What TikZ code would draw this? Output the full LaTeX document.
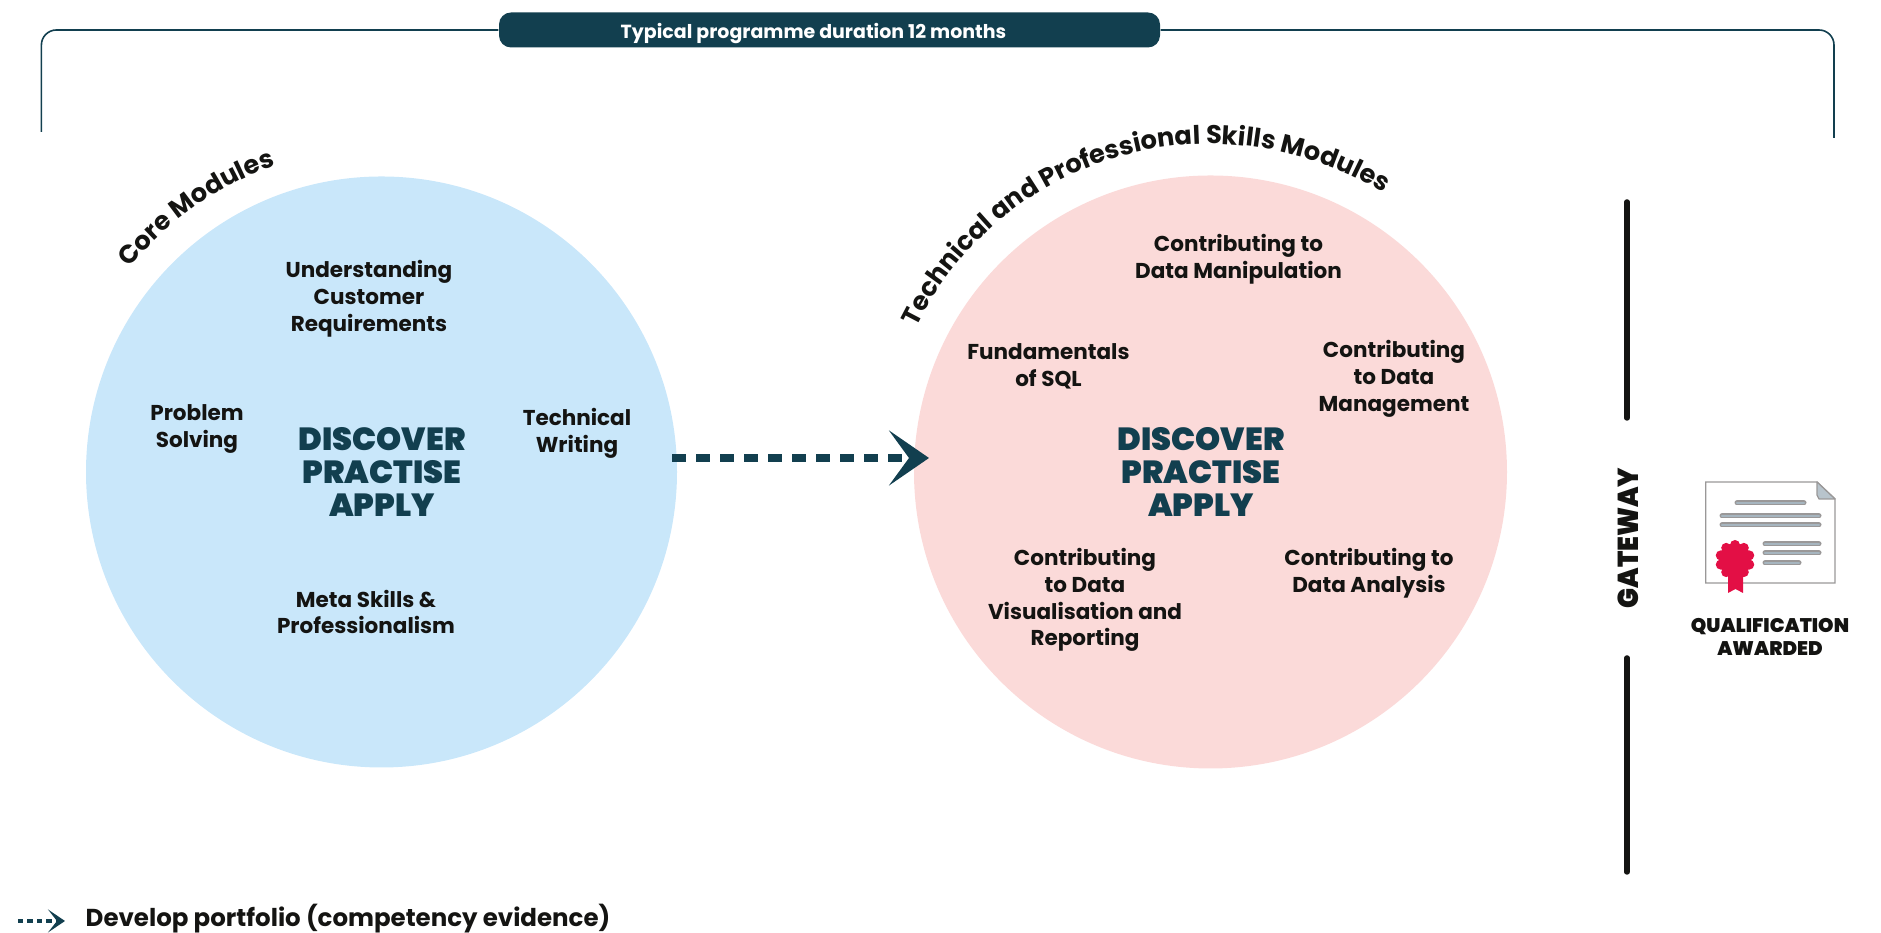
\documentclass[tikz,border=0pt]{standalone}
\usepackage{fontspec}
\setmainfont{Poppins}
\newfontfamily\heavyfont{Poppins Black}
\usetikzlibrary{arrows.meta, decorations.text}
\definecolor{petrol}{HTML}{123F4F}
\definecolor{coreblue}{HTML}{C9E7FA}
\definecolor{techpink}{HTML}{FBDAD9}
\definecolor{inkblack}{HTML}{141412}
\definecolor{certgray}{HTML}{9A9898}
\definecolor{certline}{HTML}{A6B5BF}
\definecolor{sealred}{HTML}{E30F45}
\newcommand{\modfont}{\fontsize{6.12}{7.65}\selectfont\bfseries}
\newcommand{\bowfont}{\fontsize{7.3}{8}\selectfont\bfseries}
\tikzset{
  modcircle/.style = {circle, inner sep = 0pt},
  modlabel/.style = {align = center, text = inkblack, inner sep = 0pt, font = \modfont},
  phaselabel/.style = {align = center, text = petrol, inner sep = 0pt, font = \heavyfont\fontsize{9.1}{9.25}\selectfont},
  gatelabel/.style = {align = center, text = inkblack, inner sep = 0pt},
  frameline/.style = {draw = petrol, line width = 0.016cm, rounded corners = 0.15cm},
  gateline/.style = {draw = inkblack, line width = 0.055cm, line cap = round},
  evidence/.style = {draw = petrol, line width = 0.087cm, dash pattern = on 0.143cm off 0.097cm,
    -{Stealth[length = 0.40cm, width = 0.55cm, inset = 0.20cm]}},
  evidencesmall/.style = {draw = petrol, line width = 0.035cm, dash pattern = on 0.055cm off 0.04cm,
    -{Stealth[length = 0.17cm, width = 0.23cm, inset = 0.09cm]}},
  bowtext/.style = {decorate, decoration = {text along path, text align = center, text = {#1}}}
}
\begin{document}
\begin{tikzpicture}
        \useasboundingbox (0, 0) rectangle (18.81, 9.33);
        % programme frame
        \node[fill = petrol, rounded corners = 0.12cm, minimum width = 6.61cm, minimum height = 0.35cm, inner sep = 0pt] (duration) at (8.295, 9.03) {};
        \node[text = white, inner sep = 0pt, font = \fontsize{5.4}{6}\selectfont\bfseries] (durationtext) at (8.135, 8.99) {Typical programme duration 12 months};
        \coordinate (frameleft) at (0.414, 8.01);
        \coordinate (frameright) at (18.34, 7.95);
        \draw[frameline] (frameleft) |- (duration.west);
        \draw[frameline] (frameright) |- (duration.east);
        % circles
        \node[modcircle, fill = coreblue, minimum size = 5.91cm] (core) at (3.815, 4.61) {};
        \node[modcircle, fill = techpink, minimum size = 5.93cm] (tech) at (12.105, 4.61) {};
        \path[bowtext = {|\bowfont\color{inkblack}|Core Modules}] ([shift = {(149.5:3.24)}] core.center) arc [start angle = 149.5, end angle = 100.5, radius = 3.24];
        \path[bowtext = {|\bowfont\color{inkblack}|Technical and Professional Skills Modules}] ([shift = {(160:3.28)}] tech.center) arc [start angle = 160, end angle = 52, radius = 3.28];
        % core modules
        \node[modlabel] (customer) at (3.69, 6.34) {Understanding\\Customer\\Requirements};
        \node[modlabel] (problem) at (1.97, 5.04) {Problem\\Solving};
        \node[modlabel] (writing) at (5.77, 5.00) {Technical\\Writing};
        \node[modlabel] (meta) at (3.66, 3.21) {Meta Skills \&\\Professionalism};
        \node[phaselabel] (phasecore) at (3.82, 4.61) {DISCOVER\\PRACTISE\\APPLY};
        % technical and professional modules
        \node[modlabel] (manipulation) at (12.385, 6.735) {Contributing to\\Data Manipulation};
        \node[modlabel] (sql) at (10.485, 5.67) {Fundamentals\\of SQL};
        \node[modlabel] (management) at (13.94, 5.54) {Contributing\\to Data\\Management};
        \node[modlabel] (visualisation) at (10.85, 3.33) {Contributing\\to Data\\Visualisation and\\Reporting};
        \node[modlabel] (analysis) at (13.69, 3.60) {Contributing to\\Data Analysis};
        \node[phaselabel] (phasetech) at (12.01, 4.61) {DISCOVER\\PRACTISE\\APPLY};
        % portfolio arrow
        \coordinate (arrowstart) at (6.72, 4.75);
        \coordinate (arrowend) at (9.29, 4.75);
        \draw[evidence] (arrowstart) -- (arrowend);
        % gateway
        \draw[gateline] (16.27, 7.31) -- (16.27, 5.15);
        \draw[gateline] (16.27, 2.75) -- (16.27, 0.61);
        \node[gatelabel, rotate = 90, xscale = 0.92, font = \heavyfont\fontsize{8.2}{9}\selectfont] (gateway) at (16.285, 3.95) {GATEWAY};
        % certificate
        \draw[certgray, line width = 0.014cm] (17.057, 4.51) -- (17.057, 3.50) -- (18.35, 3.50) -- (18.35, 4.34) -- (18.17, 4.51) -- cycle;
        \filldraw[draw = certgray, fill = certline!80, line width = 0.012cm, line join = round] (18.17, 4.51) -- (18.35, 4.34) -- (18.19, 4.34) -- (18.17, 4.38) -- cycle;
        \foreach \xa/\xb/\ya in {17.37/18.04/4.30, 17.22/18.19/4.17, 17.22/18.19/4.08, 17.65/18.19/3.89, 17.65/18.19/3.80, 17.65/17.99/3.70} {
          \draw[certgray, line width = 0.05cm, line cap = round] (\xa, \ya) -- (\xb, \ya);
          \draw[certline, line width = 0.024cm, line cap = round] (\xa, \ya) -- (\xb, \ya);
        }
        \fill[sealred] (17.28, 3.60) -- (17.43, 3.60) -- (17.43, 3.40) -- (17.355, 3.44) -- (17.28, 3.40) -- cycle;
        \fill[sealred] (17.35, 3.73) circle (0.165);
        \foreach \a in {0, 36, ..., 324} {
          \fill[sealred] (17.35, 3.73) ++(\a + 18 : 0.15) circle (0.05);
        }
        \node[gatelabel, font = \heavyfont\fontsize{5.6}{6.54}\selectfont] (awarded) at (17.70, 2.96) {QUALIFICATION\\AWARDED};
        % legend
        \coordinate (legendstart) at (0.18, 0.12);
        \coordinate (legendend) at (0.65, 0.12);
        \draw[evidencesmall] (legendstart) -- (legendend);
        \node[modlabel, anchor = west, font = \fontsize{6.97}{8}\selectfont\bfseries] (portfolio) at (0.85, 0.14) {Develop portfolio (competency evidence)};
      \end{tikzpicture}
\end{document}
